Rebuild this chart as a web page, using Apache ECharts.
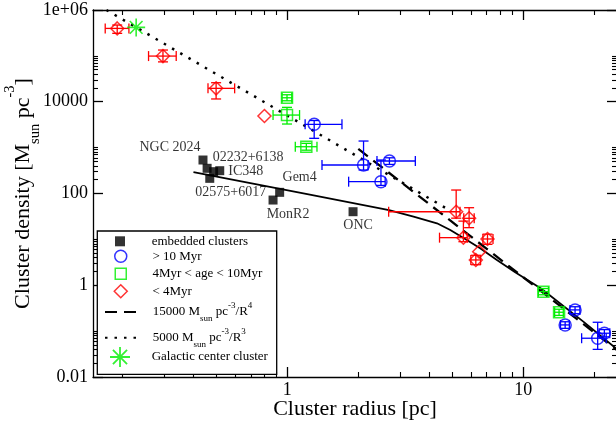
<!DOCTYPE html>
<html><head><meta charset="utf-8">
<script src="https://cdn.jsdelivr.net/npm/echarts@6/dist/echarts.min.js"></script>
<style>html,body{margin:0;padding:0;background:#fff}#c{width:616px;height:423px}</style>
</head><body><div id="c"></div>
<script>
// ---------- tick values / labels ----------
const xMajor = [1, 10];
const xTickLabels = ['1', '10'];
const xMinor = [0.2,0.3,0.4,0.5,0.6,0.7,0.8,0.9,2,3,4,5,6,7,8,9,20];
const yMajor = [0.01, 1, 100, 10000, 1000000];
const yTickLabels = ['0.01', '1', '100', '10000', '1e+06'];
const yMinor = [0.02,0.03,0.04,0.05,0.06,0.07,0.08,0.09,0.1,
  2,3,4,5,6,7,8,9,10, 200,300,400,500,600,700,800,900,1000,
  20000,30000,40000,50000,60000,70000,80000,90000,100000];

// ---------- embedded clusters ----------
const embNames = ['NGC 2024','02232+6138','02575+6017','','IC348','Gem4','MonR2','ONC'];
const embR = [0.439, 0.457, 0.469, 0.487, 0.517, 0.928, 0.87, 1.90];
const embD = [537, 354, 214, 299, 314, 106, 72, 40.1];

// ---------- > 10 Myr ----------
const oldR   = [1.30, 2.105, 2.71, 2.495, 16.6, 15.07, 20.7, 22.1];
const oldD   = [3220, 418, 511, 181, 0.29, 0.1365, 0.07, 0.09];
const oldRlo = [1.19, 1.403, 2.40, 1.82, 15.8, 14.4, 17.7, 21.0];
const oldRhi = [1.705, 2.2, 3.49, 2.6, 17.4, 15.7, 22.5, 23.3];
const oldDlo = [1595, 325, 430, 150, 0.24, 0.115, 0.040, 0.075];
const oldDhi = [3900, 1392, 600, 537, 0.34, 0.16, 0.156, 0.108];

// ---------- 4 Myr < age < 10 Myr ----------
const midR   = [0.997, 0.997, 1.204, 12.19, 14.2];
const midD   = [12200, 5130, 1046, 0.726, 0.258];
const midRlo = [0.95, 0.87, 1.081, 11.6, 13.6];
const midRhi = [1.045, 1.127, 1.336, 12.8, 14.8];
const midDlo = [10500, 3270, 880, 0.62, 0.22];
const midDhi = [14200, 7550, 1240, 0.85, 0.30];

// ---------- < 4 Myr ----------
const yngR   = [0.190, 0.297, 0.499, 0.80, 5.2, 5.9, 5.58, 7.06, 6.51, 6.3];
const yngD   = [3.97e5, 9.9e4, 1.96e4, 4880, 40, 28.8, 10.9, 10.2, 5.4, 3.56];
const yngRlo = [0.169, 0.258, 0.461, null, 2.69, 5.6, 4.42, 6.75, null, 6.0];
const yngRhi = [0.213, 0.338, 0.598, null, 5.4, 6.2, 5.79, 7.45, null, 6.6];
const yngDlo = [3.1e5, 7.4e4, 1.15e4, null, 29, 18, 8.9, 7.8, null, 2.8];
const yngDhi = [4.7e5, 1.34e5, 2.6e4, null, 119, 49, 25, 13, null, 4.5];

// ---------- Galactic center ----------
const gcR = [0.2286];
const gcD = [4.18e5];

// ---------- reference lines (end points) ----------
const r4R = [2.0, 25];      const r4D = [937, 0.0384];   // 15000/R^4
const r3R = [0.171, 4.9];   const r3D = [1.0e6, 42.5];   // 5000/R^3

// ---------- solid model curve ----------
const modelR = [0.40, 1.2, 2.7, 3.43, 4.31, 4.91, 5.77, 6.57, 7.74, 9.25, 11.95, 18.0, 24.8];
const modelD = [294, 98, 43.5, 31.2, 22.4, 16.0, 9.7, 6.4, 3.56, 1.92, 0.84, 0.161, 0.0416];

// ---------- styling ----------
const FF = "'Liberation Serif','Times New Roman',serif";
const RED = '#ff0000', BLUE = '#0000ff', GREEN = '#00ee00';
const labelOffsets = {
  'NGC 2024': [-33, -13], '02232+6138': [41, -11], 'IC348': [26, 1],
  '02575+6017': [21, 14], 'Gem4': [20, -15], 'MonR2': [15, 14], 'ONC': [5, 14]
};
const ASTERISK = 'path://M-0.9,-10L0.9,-10L0.9,10L-0.9,10Z' +
  'M-10,-0.9L10,-0.9L10,0.9L-10,0.9Z' +
  'M-6.43,-7.71L7.71,6.43L6.43,7.71L-7.71,-6.43Z' +
  'M-7.71,6.43L6.43,-7.71L7.71,-6.43L-6.43,7.71Z';

const zip = (a, b) => a.map((v, i) => [v, b[i]]);

function errData(R, D, Rlo, Rhi, Dlo, Dhi) {
  const out = [];
  for (let i = 0; i < R.length; i++) {
    if (Rlo[i] == null && Dlo[i] == null) continue;
    out.push([R[i], D[i],
      Rlo[i] == null ? R[i] : Rlo[i], Rhi[i] == null ? R[i] : Rhi[i],
      Dlo[i] == null ? D[i] : Dlo[i], Dhi[i] == null ? D[i] : Dhi[i]]);
  }
  return out;
}
function errSeries(data, color) {
  return {
    type: 'custom', data: data, z: 3, silent: true, clip: false,
    encode: { x: 0, y: 1 },
    renderItem: function (params, api) {
      const x = api.value(0), y = api.value(1);
      const c = api.coord([x, y]);
      const xl = api.coord([api.value(2), y]), xh = api.coord([api.value(3), y]);
      const yl = api.coord([x, api.value(4)]), yh = api.coord([x, api.value(5)]);
      const cap = 5;
      const st = { stroke: color, lineWidth: 1.3, fill: null };
      const ch = [];
      const ln = (x1, y1, x2, y2) => ch.push({ type: 'line', shape: { x1, y1, x2, y2 }, style: st });
      if (Math.abs(xh[0] - xl[0]) > 0.5) {
        ln(xl[0], c[1], xh[0], c[1]);
        if (Math.abs(xl[0] - c[0]) > 1) ln(xl[0], c[1] - cap, xl[0], c[1] + cap);
        if (Math.abs(xh[0] - c[0]) > 1) ln(xh[0], c[1] - cap, xh[0], c[1] + cap);
      }
      if (Math.abs(yh[1] - yl[1]) > 0.5) {
        ln(c[0], yl[1], c[0], yh[1]);
        if (Math.abs(yl[1] - c[1]) > 1) ln(c[0] - cap, yl[1], c[0] + cap, yl[1]);
        if (Math.abs(yh[1] - c[1]) > 1) ln(c[0] - cap, yh[1], c[0] + cap, yh[1]);
      }
      return { type: 'group', children: ch };
    }
  };
}

function labFrom(values, labels) {
  return function (v) {
    for (let i = 0; i < values.length; i++) {
      if (Math.abs(Math.log10(v) - Math.log10(values[i])) < 1e-6) return labels[i];
    }
    return '';
  };
}

const axLine = { show: true, onZero: false, lineStyle: { color: '#000', width: 1.3 } };
const majTick = (vals) => ({ show: true, inside: true, length: 10, customValues: vals, lineStyle: { color: '#000', width: 1.3 } });
const minTick = (vals) => ({ show: true, inside: true, length: 5, customValues: vals, lineStyle: { color: '#000', width: 1.1 } });
const xC = { type: 'log', logBase: 10, min: 0.15, max: 25, splitLine: { show: false } };
const yC = { type: 'log', logBase: 10, min: 0.01, max: 1e6, splitLine: { show: false } };

const legendText = {
  'r4': '15000 M{sub|sun} pc{sup|-3}/R{sup|4}',
  'r3': '5000 M{sub|sun} pc{sup|-3}/R{sup|3}'
};
const legRich = {
  sub: { fontSize: 9, fontFamily: FF, color: '#000', lineHeight: 9.6, verticalAlign: 'bottom' },
  sup: { fontSize: 9, fontFamily: FF, color: '#000', lineHeight: 12.4, verticalAlign: 'top' }
};
// row centre y, icon size (symbol rows) / line rows
const legendRows = [
  { name: 'embedded clusters', cy: 241.3, ih: 10, lh: 14, line: false },
  { name: '> 10 Myr', cy: 256.3, ih: 12, lh: 14, line: false },
  { name: '4Myr < age < 10Myr', cy: 273.7, ih: 11, lh: 14, line: false },
  { name: '< 4Myr', cy: 291, ih: 13, lh: 14, line: false },
  { name: 'r4', cy: 312, ih: 10, lh: 22, line: true },
  { name: 'r3', cy: 337.7, ih: 10, lh: 22, line: true },
  { name: 'Galactic center cluster', cy: 357, ih: 20, lh: 14, line: false }
];
const ICON_CX = 120, TEXT_X = 151.7;

const embData = embR.map((r, i) => {
  const n = embNames[i];
  const item = { name: n, value: [r, embD[i]] };
  if (labelOffsets[n]) item.label = { show: true, offset: labelOffsets[n] };
  return item;
});

const option = {
  animation: false,
  backgroundColor: '#fff',
  grid: { left: 93, right: -1, top: 10, bottom: 46, containLabel: false, outerBoundsMode: 'none' },
  xAxis: [
    Object.assign({}, xC, { position: 'bottom', axisLine: axLine, axisTick: majTick(xMajor),
      axisLabel: { show: true, customValues: xMajor, formatter: labFrom(xMajor, xTickLabels),
        fontFamily: FF, fontSize: 18, color: '#000', margin: 4 },
      name: 'Cluster radius [pc]', nameLocation: 'middle', nameGap: 19, nameMoveOverlap: false,
      nameTextStyle: { fontFamily: FF, fontSize: 22, color: '#000', lineHeight: 26 } }),
    Object.assign({}, xC, { position: 'bottom', axisLine: { show: false }, axisTick: minTick(xMinor), axisLabel: { show: false } }),
    Object.assign({}, xC, { position: 'top', axisLine: axLine, axisTick: majTick(xMajor), axisLabel: { show: false } }),
    Object.assign({}, xC, { position: 'top', axisLine: { show: false }, axisTick: minTick(xMinor), axisLabel: { show: false } })
  ],
  yAxis: [
    Object.assign({}, yC, { position: 'left', axisLine: axLine, axisTick: majTick(yMajor),
      axisLabel: { show: true, customValues: yMajor, formatter: labFrom(yMajor, yTickLabels),
        fontFamily: FF, fontSize: 18, color: '#000', margin: 5 },
      name: 'Cluster density [M{sub|sun} pc{sup|-3}]', nameLocation: 'middle', nameGap: 50, nameRotate: 90,
      nameMoveOverlap: false,
      nameTextStyle: { fontFamily: FF, fontSize: 22, color: '#000', lineHeight: 40,
        rich: {
          sub: { fontFamily: FF, fontSize: 14.5, color: '#000', lineHeight: 15.5, verticalAlign: 'bottom' },
          sup: { fontFamily: FF, fontSize: 14.5, color: '#000', lineHeight: 14.5, verticalAlign: 'top' }
        } } }),
    Object.assign({}, yC, { position: 'left', axisLine: { show: false }, axisTick: minTick(yMinor), axisLabel: { show: false } }),
    Object.assign({}, yC, { position: 'right', axisLine: axLine, axisTick: majTick(yMajor), axisLabel: { show: false } }),
    Object.assign({}, yC, { position: 'right', axisLine: { show: false }, axisTick: minTick(yMinor), axisLabel: { show: false } })
  ],
  legend: legendRows.map(r => {
    const w = r.line ? 32 : r.ih;
    const left = ICON_CX - w / 2;
    const pad = TEXT_X - (left + w + 5);
    const boxH = Math.max(r.ih, r.lh);
    return {
      data: [r.name], left: left, top: r.cy - boxH / 2, padding: 0, itemWidth: w, itemHeight: r.ih,
      itemGap: 0, selectedMode: false, z: 10,
      itemStyle: r.line ? { opacity: 0, borderWidth: 0 } : { borderWidth: 1.5 },
      textStyle: { fontFamily: FF, fontSize: 13, color: '#000', lineHeight: r.lh, padding: [0, 0, 0, pad], rich: legRich },
      formatter: n => legendText[n] || n
    };
  }),
  graphic: [{
    type: 'rect', z: 5, shape: { x: 97.3, y: 231, width: 179.4, height: 143.3 },
    style: { fill: '#fff', stroke: '#000', lineWidth: 1.3 }
  }],
  series: [
    { name: 'model', type: 'line', data: zip(modelR, modelD), symbol: 'none', z: 2,
      lineStyle: { color: '#000', width: 1.8 } },
    { name: 'r4', type: 'line', data: zip(r4R, r4D), symbol: 'none', z: 2,
      itemStyle: { color: 'rgba(0,0,0,0)' },
      lineStyle: { color: '#000', width: 2.3, type: [12, 7] } },
    { name: 'r3', type: 'line', data: zip(r3R, r3D), symbol: 'none', z: 2,
      itemStyle: { color: 'rgba(0,0,0,0)' },
      lineStyle: { color: '#000', width: 2.5, type: [2.5, 7] } },
    { name: 'embedded clusters', type: 'scatter', symbol: 'rect', symbolSize: 9, z: 4,
      itemStyle: { color: '#000' }, data: embData,
      label: { show: false, position: 'inside', formatter: '{b}', fontFamily: FF, fontSize: 14, color: '#000' } },
    { name: '> 10 Myr', type: 'scatter', symbol: 'circle', symbolSize: 12, z: 4,
      itemStyle: { color: 'rgba(0,0,0,0)', borderColor: BLUE, borderWidth: 1.5 }, data: zip(oldR, oldD) },
    { name: '4Myr < age < 10Myr', type: 'scatter', symbol: 'rect', symbolSize: 11, z: 4,
      itemStyle: { color: 'rgba(0,0,0,0)', borderColor: GREEN, borderWidth: 1.5 }, data: zip(midR, midD) },
    { name: '< 4Myr', type: 'scatter', symbol: 'diamond', symbolSize: 13, z: 4,
      itemStyle: { color: 'rgba(0,0,0,0)', borderColor: RED, borderWidth: 1.5 }, data: zip(yngR, yngD) },
    { name: 'Galactic center cluster', type: 'scatter', symbol: ASTERISK, symbolSize: 18, z: 4,
      itemStyle: { color: GREEN }, data: zip(gcR, gcD) },
    errSeries(errData(oldR, oldD, oldRlo, oldRhi, oldDlo, oldDhi), BLUE),
    errSeries(errData(midR, midD, midRlo, midRhi, midDlo, midDhi), GREEN),
    errSeries(errData(yngR, yngD, yngRlo, yngRhi, yngDlo, yngDhi), RED)
  ]
};

const chart = echarts.init(document.getElementById('c'), null, { renderer: 'canvas' });
chart.setOption(option);
</script>
</body></html>
